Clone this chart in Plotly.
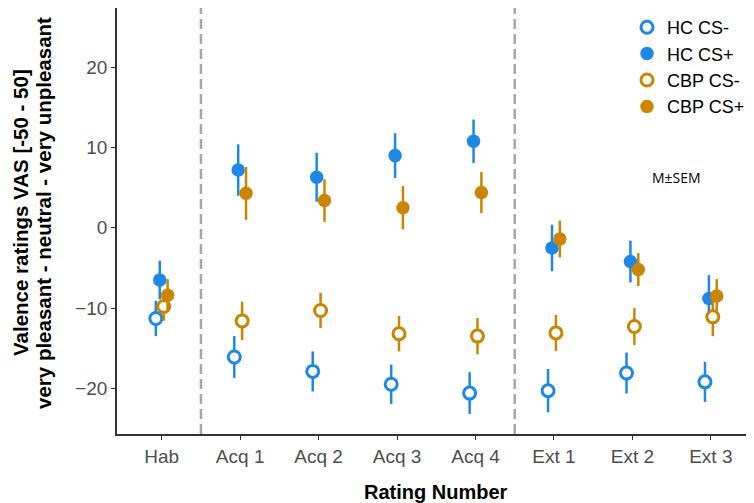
import plotly.graph_objects as go

categories = ["Hab", "Acq 1", "Acq 2", "Acq 3", "Acq 4", "Ext 1", "Ext 2", "Ext 3"]

hc_csm = [-11.3, -16.1, -17.9, -19.5, -20.6, -20.3, -18.1, -19.2]
hc_csm_sem = [2.2, 2.6, 2.5, 2.45, 2.6, 2.7, 2.55, 2.5]
hc_csp = [-6.5, 7.2, 6.3, 9.0, 10.8, -2.5, -4.2, -8.8]
hc_csp_sem = [2.4, 3.2, 3.05, 2.8, 2.7, 2.9, 2.6, 2.9]
cbp_csm = [-9.8, -11.6, -10.3, -13.2, -13.5, -13.1, -12.3, -11.1]
cbp_csm_sem = [1.8, 2.4, 2.2, 2.2, 2.25, 2.25, 2.3, 2.4]
cbp_csp = [-8.4, 4.3, 3.4, 2.5, 4.4, -1.4, -5.2, -8.5]
cbp_csp_sem = [2.0, 3.3, 2.65, 2.7, 2.55, 2.3, 2.05, 2.1]

BLUE = "#1e88e5"
ORANGE = "#cc8500"

series = [
    ("HC CS-", hc_csm, hc_csm_sem, BLUE, True),
    ("HC CS+", hc_csp, hc_csp_sem, BLUE, False),
    ("CBP CS-", cbp_csm, cbp_csm_sem, ORANGE, True),
    ("CBP CS+", cbp_csp, cbp_csp_sem, ORANGE, False),
]

# The page body has an 8px default margin; size the figure so the plot area
# lands where the reference has it.
W, H = 746, 495
ML, MT, MB, MR = 109, 0, 69, 0
PW = W - ML - MR
PH = H - MT - MB

fig = go.Figure()
for name, vals, sem, col, is_open in series:
    if is_open:
        marker = dict(symbol="circle", size=12, color="white", line=dict(color=col, width=3))
    else:
        marker = dict(symbol="circle", size=13.5, color=col, line=dict(color=col, width=0))
    fig.add_trace(go.Scatter(
        x=categories, y=vals, name=name, mode="markers",
        marker=marker,
        error_y=dict(type="data", array=sem, visible=True, color=col, thickness=2.5, width=0),
    ))

for xv in [0.5, 4.5]:
    fig.add_shape(type="line", xref="x", yref="paper", x0=xv, x1=xv, y0=0, y1=1,
                  line=dict(color="#a6a6a6", width=2.5, dash="10px,5px"), layer="below")

fig.add_annotation(text="M±SEM", xref="paper", yref="y", x=(650 - 117) / PW, y=6.3,
                   xanchor="left", yanchor="middle", showarrow=False,
                   font=dict(size=14, color="black", family="Open Sans, Arial, sans-serif"))

# y-axis title (two lines)
yc = 1 - (213 - 8) / PH
fig.add_annotation(text="<b>Valence ratings VAS [-50 - 50]</b>",
                   xref="paper", yref="paper", x=0, y=yc, xshift=-(117 - 21), textangle=-90,
                   xanchor="center", yanchor="middle", showarrow=False,
                   font=dict(size=20.5, color="black", family="Liberation Sans, Arial, sans-serif"))
fig.add_annotation(text="<b>very pleasant - neutral - very unpleasant</b>",
                   xref="paper", yref="paper", x=0, y=yc, xshift=-(117 - 44), textangle=-90,
                   xanchor="center", yanchor="middle", showarrow=False,
                   font=dict(size=20.5, color="black", family="Liberation Sans, Arial, sans-serif"))

# x-axis title
fig.add_annotation(text="<b>Rating Number</b>", xref="paper", yref="paper", x=0.5, y=0,
                   yshift=-(492 - 434), xanchor="center", yanchor="middle", showarrow=False,
                   font=dict(size=20, color="black", family="Liberation Sans, Arial, sans-serif"))

fig.update_layout(
    width=W, height=H,
    margin=dict(l=ML, r=MR, t=MT, b=MB, autoexpand=False),
    paper_bgcolor="white", plot_bgcolor="white",
    scattermode="group", scattergap=0.8,
    font=dict(family="Liberation Sans, Arial, sans-serif"),
    showlegend=True,
    legend=dict(x=(627 - 117) / PW, y=1 - (9 - 8) / PH, xanchor="left", yanchor="top",
                font=dict(size=18, color="black"), bgcolor="rgba(0,0,0,0)",
                itemsizing="trace", tracegroupgap=0),
    xaxis=dict(
        type="category", categoryorder="array", categoryarray=categories,
        range=[-0.57, 7.55], showgrid=False, zeroline=False,
        showline=True, linecolor="#333333", linewidth=1.5,
        ticks="outside", ticklen=4, tickcolor="#333333",
        tickfont=dict(size=19, color="#4d4d4d"),
    ),
    yaxis=dict(
        range=[-25.7, 27.4], showgrid=False, zeroline=False,
        showline=True, linecolor="#333333", linewidth=1.5,
        ticks="outside", ticklen=4, tickcolor="#333333",
        tickvals=[-20, -10, 0, 10, 20],
        tickfont=dict(size=19, color="#4d4d4d"),
    ),
)

fig.write_html("out.html")
